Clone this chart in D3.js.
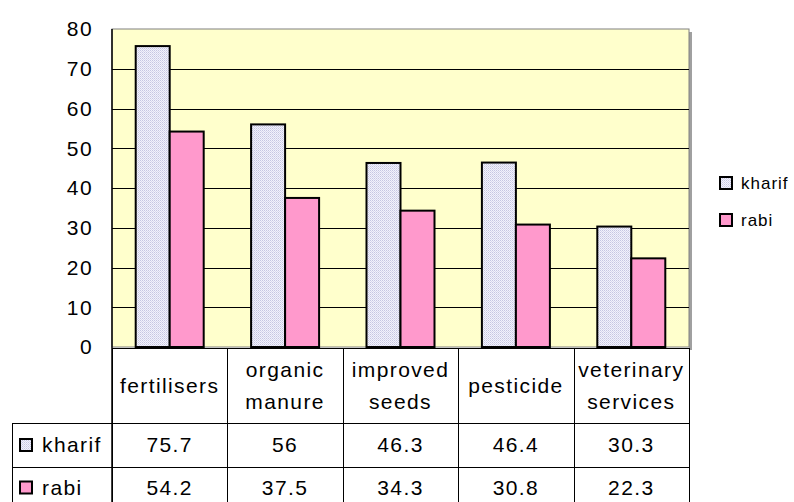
<!DOCTYPE html>
<html>
<head>
<meta charset="utf-8">
<script src="https://cdn.jsdelivr.net/npm/d3@7"></script>
<style>
  body { margin: 0; background: #fff; }
  text { font-family: "Liberation Sans", Arial, sans-serif; fill: #000; }
</style>
</head>
<body>
<script>
var categories = [["fertilisers"], ["organic", "manure"], ["improved", "seeds"], ["pesticide"], ["veterinary", "services"]];
var seriesNames = ["kharif", "rabi"];
var kharif = [75.7, 56, 46.3, 46.4, 30.3];
var rabi = [54.2, 37.5, 34.3, 30.8, 22.3];
var tableText = [["75.7", "56", "46.3", "46.4", "30.3"], ["54.2", "37.5", "34.3", "30.8", "22.3"]];
var yTicks = [0, 10, 20, 30, 40, 50, 60, 70, 80];

var plotLeft = 112, plotRight = 689, plotTop = 29, plotBottom = 347;
var fs = 21, ls = "1.4px";
var svg = d3.select("body").append("svg")
  .attr("width", 794)
  .attr("height", 502);

var defs = svg.append("defs");
var pat = defs.append("pattern")
  .attr("id", "dots")
  .attr("width", 2).attr("height", 2)
  .attr("patternUnits", "userSpaceOnUse");
pat.append("rect").attr("width", 2).attr("height", 2).attr("fill", "#f2f2fb");
pat.append("rect").attr("width", 1).attr("height", 1).attr("fill", "#c6c6e2");
pat.append("rect").attr("x", 1).attr("y", 1).attr("width", 1).attr("height", 1).attr("fill", "#d8d8ee");

var fills = ["url(#dots)", "#ff99cc"];

var x = d3.scaleBand().domain(d3.range(categories.length)).range([plotLeft, plotRight]);
var xs = d3.scaleBand().domain([0, 1]).range([0, 68]);
var y = d3.scaleLinear().domain([0, 80]).range([plotBottom, plotTop]);

// shadow and plot background
svg.append("rect").attr("x", plotRight).attr("y", plotTop + 3).attr("width", 3).attr("height", plotBottom - plotTop)
  .attr("fill", "#a0a0a0");
svg.append("rect").attr("x", plotLeft).attr("y", plotTop).attr("width", plotRight - plotLeft).attr("height", plotBottom - plotTop)
  .attr("fill", "#ffffcc").attr("stroke", "#808080").attr("stroke-width", 1);

// gridlines
svg.selectAll("line.grid")
  .data(yTicks.slice(1, -1))
  .enter().append("line")
  .attr("x1", plotLeft).attr("x2", plotRight)
  .attr("y1", function(d) { return Math.round(y(d)) + 0.5; })
  .attr("y2", function(d) { return Math.round(y(d)) + 0.5; })
  .attr("stroke", "#000").attr("stroke-width", 1);

// y axis labels
svg.selectAll("text.ytick")
  .data(yTicks)
  .enter().append("text")
  .attr("x", 93)
  .attr("y", function(d) { return y(d); })
  .attr("dy", "0.35em")
  .attr("text-anchor", "end")
  .attr("font-size", fs)
  .attr("letter-spacing", ls)
  .text(function(d) { return d; });

// bars
var series = [kharif, rabi];
series.forEach(function(vals, s) {
  svg.selectAll("rect.s" + s)
    .data(vals)
    .enter().append("rect")
    .attr("x", function(d, i) { return x(i) + (x.bandwidth() - 68) / 2 + xs(s); })
    .attr("y", function(d) { return y(d); })
    .attr("width", xs.bandwidth())
    .attr("height", function(d) { return plotBottom - y(d); })
    .attr("fill", fills[s])
    .attr("stroke", "#000")
    .attr("stroke-width", 2);
});

// axis line
svg.append("line").attr("x1", plotLeft).attr("x2", plotLeft).attr("y1", plotTop).attr("y2", 502)
  .attr("stroke", "#000").attr("stroke-width", 1.5);

// table
var rowTop = [348, 423, 467, 511];
var tbl = svg.append("g").attr("stroke", "#000").attr("stroke-width", 1);
rowTop.slice(0, 3).forEach(function(ry, i) {
  tbl.append("line").attr("x1", i === 0 ? plotLeft : 12).attr("x2", plotRight)
    .attr("y1", ry + 0.5).attr("y2", ry + 0.5);
});
d3.range(categories.length + 1).forEach(function(i) {
  var xx = i < categories.length ? x(i) : plotRight;
  tbl.append("line").attr("x1", Math.round(xx) + 0.5).attr("x2", Math.round(xx) + 0.5)
    .attr("y1", 348).attr("y2", 502);
});
tbl.append("line").attr("x1", 12.5).attr("x2", 12.5).attr("y1", 423).attr("y2", 502);

// category labels
categories.forEach(function(lines, i) {
  var cx = x(i) + x.bandwidth() / 2;
  var cy = (rowTop[0] + rowTop[1]) / 2;
  var t = svg.append("text").attr("text-anchor", "middle").attr("font-size", fs).attr("letter-spacing", ls);
  lines.forEach(function(l, k) {
    t.append("tspan").attr("x", cx)
      .attr("y", cy + (k - (lines.length - 1) / 2) * 32)
      .attr("dy", "0.35em").text(l);
  });
});

// table values and row headers
tableText.forEach(function(row, s) {
  var cy = (rowTop[s + 1] + Math.min(rowTop[s + 2], 508)) / 2;
  row.forEach(function(v, i) {
    svg.append("text").attr("x", x(i) + x.bandwidth() / 2).attr("y", cy)
      .attr("dy", "0.35em").attr("text-anchor", "middle").attr("font-size", fs)
      .attr("letter-spacing", ls).text(v);
  });
  svg.append("rect").attr("x", 20).attr("y", cy - 6).attr("width", 12).attr("height", 12)
    .attr("fill", fills[s]).attr("stroke", "#000").attr("stroke-width", 2);
  svg.append("text").attr("x", 42).attr("y", cy).attr("dy", "0.35em")
    .attr("font-size", fs).attr("letter-spacing", ls).text(seriesNames[s]);
});

// legend
seriesNames.forEach(function(n, s) {
  var ly = 183 + s * 37;
  svg.append("rect").attr("x", 720).attr("y", ly - 6).attr("width", 12).attr("height", 12)
    .attr("fill", fills[s]).attr("stroke", "#000").attr("stroke-width", 2);
  svg.append("text").attr("x", 741).attr("y", ly).attr("dy", "0.35em")
    .attr("font-size", 17).attr("letter-spacing", "1px").text(n);
});
</script>
</body>
</html>
